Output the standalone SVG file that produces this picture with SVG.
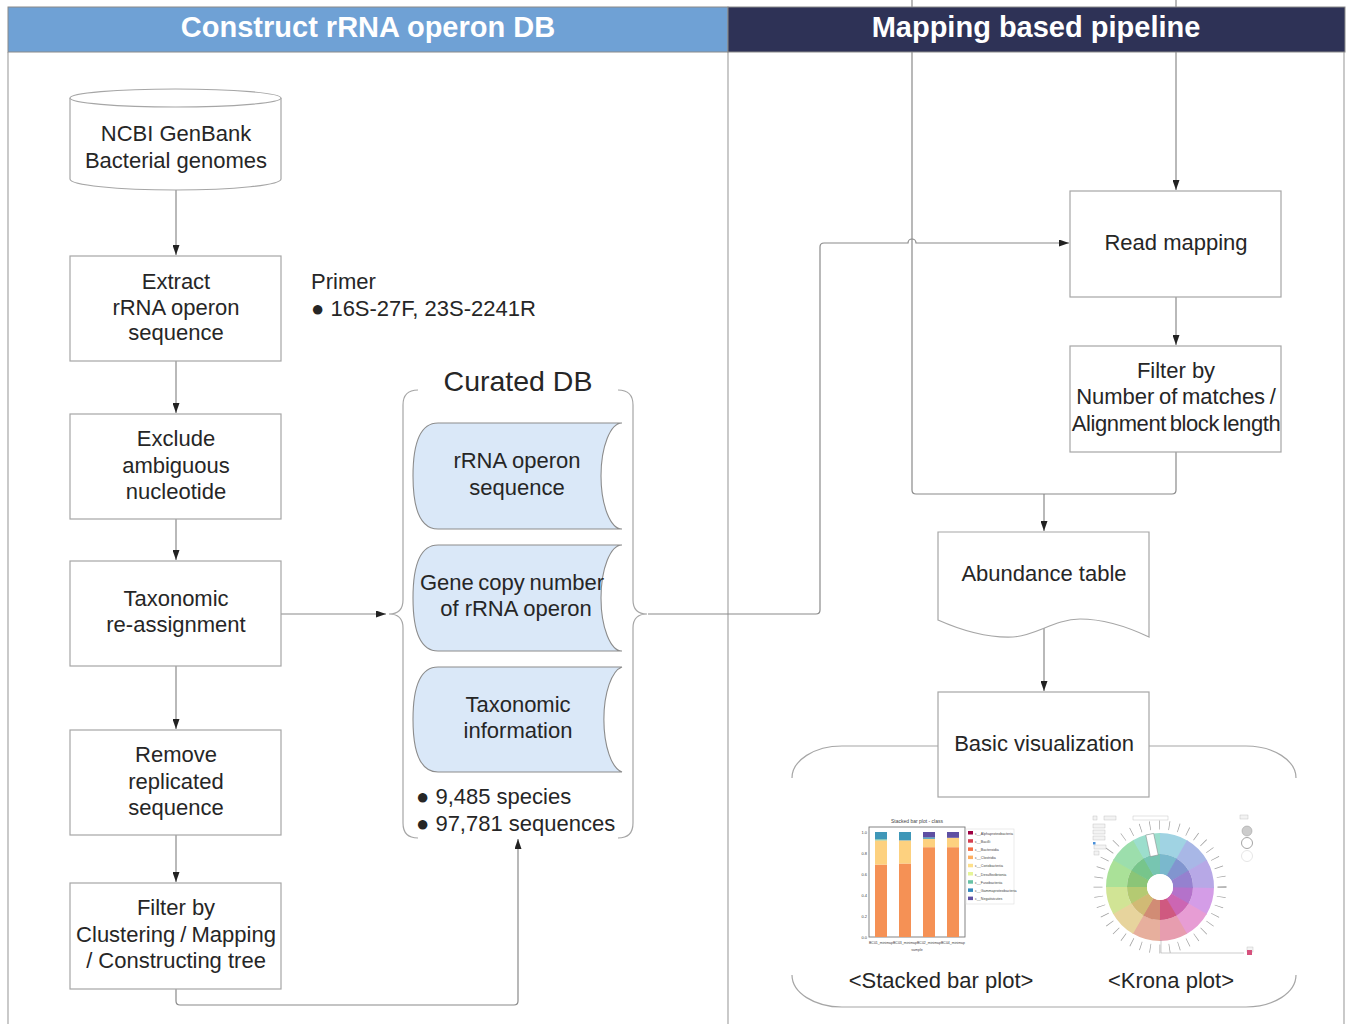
<svg xmlns="http://www.w3.org/2000/svg" width="1350" height="1024" viewBox="0 0 1350 1024">
<defs>
<style>
.t{font-family:"Liberation Sans",Arial,sans-serif;font-size:22px;fill:#262626;text-anchor:middle}
.tl{font-family:"Liberation Sans",Arial,sans-serif;font-size:22px;fill:#262626}
.hd{font-family:"Liberation Sans",Arial,sans-serif;font-size:29px;font-weight:bold;fill:#ffffff;text-anchor:middle}
.box{fill:#ffffff;stroke:#a6a6a6;stroke-width:1.2}
.cyl{fill:#dae8f8;stroke:#8c8c8c;stroke-width:1.1}
.ln{fill:none;stroke:#8a8a8a;stroke-width:1.2}
.pn{fill:none;stroke:#a6a6a6;stroke-width:1.2}
.tiny{font-family:"Liberation Sans",Arial,sans-serif;font-size:4px;fill:#444}
</style>
<marker id="ah" markerWidth="10" markerHeight="7" refX="10" refY="3.5" orient="auto" markerUnits="userSpaceOnUse">
<path d="M0,0 L10,3.5 L0,7 z" fill="#222"/>
</marker>
</defs>
<rect x="0" y="0" width="1350" height="1024" fill="#ffffff"/>

<g id="panels">
<line class="pn" x1="8" y1="52" x2="8" y2="1024"/>
<line class="pn" x1="728" y1="52" x2="728" y2="1024"/>
<line class="pn" x1="1344" y1="52" x2="1344" y2="1024"/>
</g>

<g id="connectors">
<path class="ln" d="M176,190 V255" marker-end="url(#ah)"/>
<path class="ln" d="M176,361 V413" marker-end="url(#ah)"/>
<path class="ln" d="M176,519 V560" marker-end="url(#ah)"/>
<path class="ln" d="M176,666 V729" marker-end="url(#ah)"/>
<path class="ln" d="M176,835 V882" marker-end="url(#ah)"/>
<path class="ln" d="M281,614 H386" marker-end="url(#ah)"/>
<path class="ln" d="M176,989 V1001 Q176,1005 180,1005 H514 Q518,1005 518,1001 V839" marker-end="url(#ah)"/>
<path class="ln" d="M648,614 H816 Q820,614 820,610 V247 Q820,243 824,243 H908 A4,4 0 0 1 916,243 H1069" marker-end="url(#ah)"/>
<path class="ln" d="M912,0 V490 Q912,494 916,494 H1172 Q1176,494 1176,490 V452"/>
<path class="ln" d="M1176,0 V190" marker-end="url(#ah)"/>
<path class="ln" d="M1176,297 V345" marker-end="url(#ah)"/>
<path class="ln" d="M1044,494 V531" marker-end="url(#ah)"/>
<path class="ln" d="M1044,628 V691" marker-end="url(#ah)"/>
</g>

<g id="header">
<rect x="8" y="7" width="720" height="45" fill="#6fa1d5" stroke="#8a8a8a" stroke-width="1"/>
<rect x="728" y="7" width="617" height="45" fill="#2e3256" stroke="#8a8a8a" stroke-width="1"/>
<text class="hd" x="368" y="37">Construct rRNA operon DB</text>
<text class="hd" x="1036" y="37">Mapping based pipeline</text>
</g>

<g id="ncbi">
<path class="box" d="M70,98 V179 A105.5,11 0 0 0 281,179 V98"/>
<ellipse class="box" cx="175.5" cy="98" rx="105.5" ry="9"/>
<text class="t" x="176" y="141">NCBI GenBank</text>
<text class="t" x="176" y="168">Bacterial genomes</text>
</g>

<g id="extract">
<rect class="box" x="70" y="256" width="211" height="105"/>
<text class="t" x="176" y="289">Extract</text>
<text class="t" x="176" y="315">rRNA operon</text>
<text class="t" x="176" y="340">sequence</text>
</g>

<g id="primer">
<text class="tl" x="311" y="289">Primer</text>
<text class="tl" x="311" y="316">● 16S-27F, 23S-2241R</text>
</g>

<g id="exclude">
<rect class="box" x="70" y="414" width="211" height="105"/>
<text class="t" x="176" y="446">Exclude</text>
<text class="t" x="176" y="473">ambiguous</text>
<text class="t" x="176" y="499">nucleotide</text>
</g>

<g id="taxreassign">
<rect class="box" x="70" y="561" width="211" height="105"/>
<text class="t" x="176" y="606">Taxonomic</text>
<text class="t" x="176" y="632">re-assignment</text>
</g>

<g id="remove">
<rect class="box" x="70" y="730" width="211" height="105"/>
<text class="t" x="176" y="762">Remove</text>
<text class="t" x="176" y="789">replicated</text>
<text class="t" x="176" y="815">sequence</text>
</g>

<g id="filter-left">
<rect class="box" x="70" y="883" width="211" height="106"/>
<text class="t" x="176" y="915">Filter by</text>
<text class="t" x="176" y="942" word-spacing="-1">Clustering / Mapping</text>
<text class="t" x="176" y="968">/ Constructing tree</text>
</g>

<g id="curated-db">
<path class="pn" d="M418,390 Q403,390 403,405 V600 Q403,614 389,614 Q403,614 403,628 V823 Q403,838 418,838"/>
<path class="pn" d="M618,390 Q633,390 633,405 V600 Q633,614 647,614 Q633,614 633,628 V823 Q633,838 618,838"/>
<text class="t" x="518" y="391" style="font-size:28.5px">Curated DB</text>
<path class="cyl" d="M438,423 H622 A21,53 0 0 0 622,529 H438 Q413,529 413,476 Q413,423 438,423 Z"/>
<text class="t" x="517" y="468">rRNA operon</text>
<text class="t" x="517" y="495">sequence</text>
<path class="cyl" d="M438,545 H622 A21,53 0 0 0 622,651 H438 Q413,651 413,598 Q413,545 438,545 Z"/>
<text class="t" x="512" y="590" word-spacing="-1.5">Gene copy number</text>
<text class="t" x="516" y="616">of rRNA operon</text>
<path class="cyl" d="M438,667 H622 A21,53 0 0 0 622,772 H438 Q413,772 413,719.5 Q413,667 438,667 Z"/>
<text class="t" x="518" y="712">Taxonomic</text>
<text class="t" x="518" y="738">information</text>
<text class="tl" x="416" y="804">● 9,485 species</text>
<text class="tl" x="416" y="831">● 97,781 sequences</text>
</g>

<g id="read-mapping">
<rect class="box" x="1070" y="191" width="211" height="106"/>
<text class="t" x="1176" y="250">Read mapping</text>
</g>

<g id="filter-right">
<rect class="box" x="1070" y="346" width="211" height="106"/>
<text class="t" x="1176" y="378">Filter by</text>
<text class="t" x="1176" y="404" word-spacing="-1.5">Number of matches /</text>
<text class="t" x="1176" y="431" letter-spacing="-0.4" word-spacing="-2">Alignment block length</text>
</g>

<g id="abundance">
<path class="box" d="M938,532 H1149 V637 C1130,628 1105,619 1080,619 C1055,619 1035,636 1013,637 C990,638 965,632 938,620 Z"/>
<text class="t" x="1044" y="581">Abundance table</text>
</g>

<g id="visualization">
<path class="pn" d="M792,778 A50,32 0 0 1 842,746 H938 M1149,746 H1246 A50,32 0 0 1 1296,778"/>
<path class="pn" d="M792,975 A50,32 0 0 0 842,1007 H1246 A50,32 0 0 0 1296,975"/>
<rect class="box" x="938" y="692" width="211" height="105"/>
<text class="t" x="1044" y="751">Basic visualization</text>
<text class="t" x="941" y="988">&lt;Stacked bar plot&gt;</text>
<text class="t" x="1171" y="988">&lt;Krona plot&gt;</text>
</g>

<g id="stacked-bar-thumb">
<text class="tiny" x="917" y="823" text-anchor="middle" style="font-size:5px">Stacked bar plot - class</text>
<rect x="869" y="827" width="96" height="110" fill="#fff" stroke="#777" stroke-width="0.9"/>
<g fill="#f59155">
<rect x="875" y="864.6" width="12" height="72.4"/>
<rect x="899" y="863.5" width="12" height="73.5"/>
<rect x="923" y="847.2" width="12" height="89.8"/>
<rect x="947" y="847.2" width="12" height="89.8"/>
</g>
<g fill="#fdd17f">
<rect x="875" y="840.4" width="12" height="24.2"/>
<rect x="899" y="840.4" width="12" height="23.1"/>
<rect x="923" y="838.8" width="12" height="8.4"/>
<rect x="947" y="837.8" width="12" height="9.4"/>
</g>
<rect x="875" y="839.3" width="12" height="1.1" fill="#7fc9a0"/>
<g fill="#3f97b8">
<rect x="875" y="832" width="12" height="7.3"/>
<rect x="899" y="832" width="12" height="8.4"/>
<rect x="923" y="837.3" width="12" height="1.5"/>
</g>
<g fill="#5e4fa2">
<rect x="923" y="832" width="12" height="5.3"/>
<rect x="947" y="832" width="12" height="5.8"/>
</g>
<g class="tiny" text-anchor="end">
<text x="867" y="833.5">1.0</text>
<text x="867" y="854.5">0.8</text>
<text x="867" y="875.5">0.6</text>
<text x="867" y="896.5">0.4</text>
<text x="867" y="917.5">0.2</text>
<text x="867" y="938.5">0.0</text>
</g>
<g class="tiny" text-anchor="middle" style="font-size:3.5px">
<text x="881" y="944">BC01_minimap</text>
<text x="905" y="944">BC03_minimap</text>
<text x="929" y="944">BC02_minimap</text>
<text x="953" y="944">BC04_minimap</text>
<text x="917" y="951">sample</text>
</g>
<rect x="966" y="829" width="48" height="75" fill="#fff" stroke="#ddd" stroke-width="0.6"/>
<rect x="968" y="831" width="5" height="3.5" fill="#9e0142"/>
<rect x="968" y="839.2" width="5" height="3.5" fill="#d53e4f"/>
<rect x="968" y="847.4" width="5" height="3.5" fill="#f46d43"/>
<rect x="968" y="855.6" width="5" height="3.5" fill="#fdae61"/>
<rect x="968" y="863.8" width="5" height="3.5" fill="#fee08b"/>
<rect x="968" y="872" width="5" height="3.5" fill="#e6f598"/>
<rect x="968" y="880.2" width="5" height="3.5" fill="#66c2a5"/>
<rect x="968" y="888.4" width="5" height="3.5" fill="#3288bd"/>
<rect x="968" y="896.6" width="5" height="3.5" fill="#5e4fa2"/>
<g class="tiny" style="font-size:3.6px">
<text x="975" y="834.5">c__Alphaproteobacteria</text>
<text x="975" y="842.7">c__Bacilli</text>
<text x="975" y="850.9">c__Bacteroidia</text>
<text x="975" y="859.1">c__Clostridia</text>
<text x="975" y="867.3">c__Coriobacteriia</text>
<text x="975" y="875.5">c__Desulfovibrionia</text>
<text x="975" y="883.7">c__Fusobacteriia</text>
<text x="975" y="891.9">c__Gammaproteobacteria</text>
<text x="975" y="900.1">c__Negativicutes</text>
</g>
</g>

<g id="krona-thumb">
<circle cx="1160" cy="887" r="62" fill="none" stroke="#a0a0a0" stroke-width="9" stroke-dasharray="0.7 9"/>
<circle cx="1160" cy="887" r="57" fill="#fff"/>
<g fill="none" stroke-width="21">
<circle cx="1160" cy="887" r="43.5" stroke="hsl(285,60%,76%)" stroke-dasharray="23.5 300" transform="rotate(0 1160 887)"/>
<circle cx="1160" cy="887" r="43.5" stroke="hsl(315,60%,76%)" stroke-dasharray="23.5 300" transform="rotate(30 1160 887)"/>
<circle cx="1160" cy="887" r="43.5" stroke="hsl(345,60%,76%)" stroke-dasharray="23.5 300" transform="rotate(60 1160 887)"/>
<circle cx="1160" cy="887" r="43.5" stroke="hsl(15,60%,76%)" stroke-dasharray="23.5 300" transform="rotate(90 1160 887)"/>
<circle cx="1160" cy="887" r="43.5" stroke="hsl(45,60%,76%)" stroke-dasharray="23.5 300" transform="rotate(120 1160 887)"/>
<circle cx="1160" cy="887" r="43.5" stroke="hsl(75,60%,74%)" stroke-dasharray="23.5 300" transform="rotate(150 1160 887)"/>
<circle cx="1160" cy="887" r="43.5" stroke="hsl(105,55%,74%)" stroke-dasharray="23.5 300" transform="rotate(180 1160 887)"/>
<circle cx="1160" cy="887" r="43.5" stroke="hsl(135,50%,74%)" stroke-dasharray="23.5 300" transform="rotate(210 1160 887)"/>
<circle cx="1160" cy="887" r="43.5" stroke="hsl(165,50%,74%)" stroke-dasharray="23.5 300" transform="rotate(240 1160 887)"/>
<circle cx="1160" cy="887" r="43.5" stroke="hsl(195,55%,76%)" stroke-dasharray="23.5 300" transform="rotate(270 1160 887)"/>
<circle cx="1160" cy="887" r="43.5" stroke="hsl(225,55%,78%)" stroke-dasharray="23.5 300" transform="rotate(300 1160 887)"/>
<circle cx="1160" cy="887" r="43.5" stroke="hsl(255,55%,78%)" stroke-dasharray="23.5 300" transform="rotate(330 1160 887)"/>
</g>
<g fill="none" stroke-width="20">
<circle cx="1160" cy="887" r="23" stroke="hsl(285,45%,62%)" stroke-dasharray="12.6 200" transform="rotate(0 1160 887)"/>
<circle cx="1160" cy="887" r="23" stroke="hsl(315,50%,60%)" stroke-dasharray="12.6 200" transform="rotate(30 1160 887)"/>
<circle cx="1160" cy="887" r="23" stroke="hsl(340,55%,58%)" stroke-dasharray="12.6 200" transform="rotate(60 1160 887)"/>
<circle cx="1160" cy="887" r="23" stroke="hsl(15,50%,64%)" stroke-dasharray="12.6 200" transform="rotate(90 1160 887)"/>
<circle cx="1160" cy="887" r="23" stroke="hsl(45,50%,64%)" stroke-dasharray="12.6 200" transform="rotate(120 1160 887)"/>
<circle cx="1160" cy="887" r="23" stroke="hsl(75,45%,62%)" stroke-dasharray="12.6 200" transform="rotate(150 1160 887)"/>
<circle cx="1160" cy="887" r="23" stroke="hsl(105,40%,62%)" stroke-dasharray="12.6 200" transform="rotate(180 1160 887)"/>
<circle cx="1160" cy="887" r="23" stroke="hsl(135,40%,62%)" stroke-dasharray="12.6 200" transform="rotate(210 1160 887)"/>
<circle cx="1160" cy="887" r="23" stroke="hsl(165,40%,62%)" stroke-dasharray="12.6 200" transform="rotate(240 1160 887)"/>
<circle cx="1160" cy="887" r="23" stroke="hsl(195,45%,64%)" stroke-dasharray="12.6 200" transform="rotate(270 1160 887)"/>
<circle cx="1160" cy="887" r="23" stroke="hsl(225,45%,66%)" stroke-dasharray="12.6 200" transform="rotate(300 1160 887)"/>
<circle cx="1160" cy="887" r="23" stroke="hsl(255,45%,66%)" stroke-dasharray="12.6 200" transform="rotate(330 1160 887)"/>
</g>
<circle cx="1160" cy="887" r="13" fill="#fff"/>
<rect x="1148" y="834" width="8" height="22" fill="#fff" stroke="#888" stroke-width="0.5" transform="rotate(-12 1152 845)"/>
<g fill="#f3f3f3" stroke="#bbb" stroke-width="0.4">
<rect x="1093" y="816" width="4" height="4"/>
<rect x="1104" y="816" width="12" height="4"/>
<rect x="1133" y="816" width="35" height="4" fill="#fff"/>
<rect x="1093" y="824" width="12" height="4"/>
<rect x="1093" y="830" width="12" height="4"/>
<rect x="1093" y="836" width="12" height="4"/>
<rect x="1094" y="845" width="12" height="4"/>
<rect x="1094" y="851" width="5" height="4"/>
<rect x="1240" y="815" width="8" height="4"/>
<rect x="1247" y="947" width="6" height="5"/>
</g>
<rect x="1093" y="842" width="2.5" height="2.5" fill="#4a90d9"/>
<circle cx="1247" cy="831" r="5" fill="#ccc" stroke="#999" stroke-width="0.5"/>
<circle cx="1247" cy="843" r="5.5" fill="#fff" stroke="#666" stroke-width="0.6"/>
<circle cx="1247" cy="856" r="5.5" fill="#fff" stroke="#ccc" stroke-width="0.5"/>
<path d="M1161,940 V953 H1244" fill="none" stroke="#999" stroke-width="0.5"/>
<rect x="1247" y="950" width="5" height="5" fill="#d6517d"/>
</g>
</svg>
